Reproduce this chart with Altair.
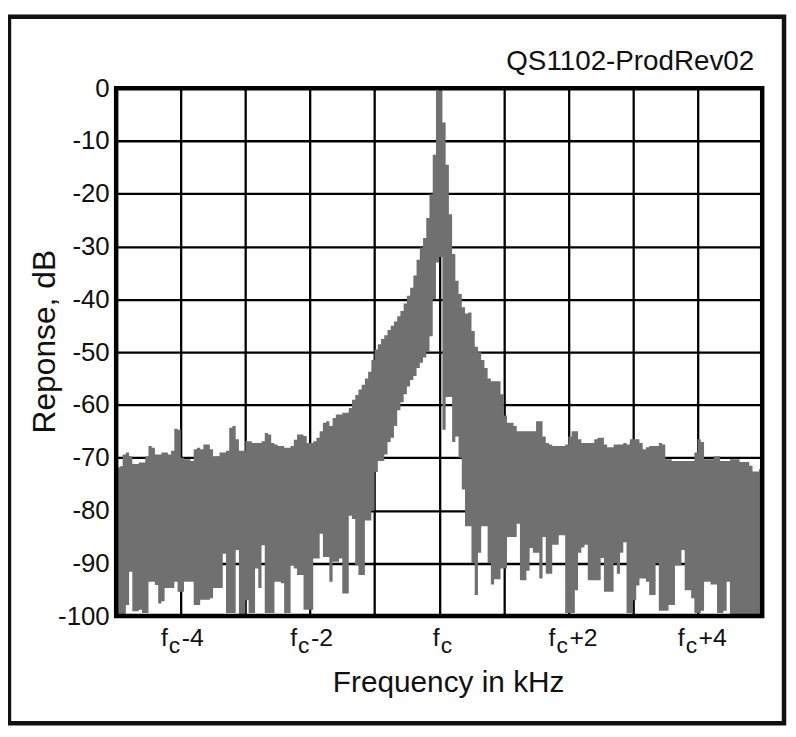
import altair as alt
import pandas as pd

W_PLOT, H_PLOT = 651, 532
GRAY = "#707070"
FONT = "Liberation Sans"

# frequency grid (kHz offset from fc), one bin every 0.05 kHz
freq = [round(-5 + 0.05 * i, 2) for i in range(201)]

# upper envelope of the spectrum per bin (dB)
top_db = [
    -71.9, -71.6, -69.4, -69.0, -69.7, -71.2, -71.2, -70.9, -70.9, -69.7,
    -67.8, -68.1, -69.4, -69.4, -69.0, -69.0, -69.4, -68.7, -64.5, -64.7,
    -70.0, -70.3, -70.3, -70.6, -68.4, -68.1, -68.4, -67.5, -67.5, -68.4,
    -69.7, -69.7, -69.0, -69.0, -68.7, -64.3, -64.0, -66.5, -68.7, -68.7,
    -66.9, -66.9, -67.2, -67.2, -67.2, -66.9, -65.3, -65.6, -67.2, -67.5,
    -67.8, -67.8, -68.1, -68.1, -67.8, -66.6, -65.6, -65.6, -65.9, -67.2,
    -67.2, -66.9, -66.2, -65.0, -63.4, -63.1, -64.0, -62.5, -61.8, -61.8,
    -61.5, -61.5, -60.6, -59.0, -58.1, -57.1, -56.2, -55.0, -53.7, -51.5,
    -49.5, -48.5, -47.5, -46.8, -45.8, -45.0, -44.2, -43.2, -42.2, -40.8,
    -39.3, -37.8, -35.5, -32.5, -30.2, -28.4, -24.6, -20.1, -12.6, -0.5,
    -0.3, -6.5, -14.5, -23.9, -31.4, -36.5, -39.0, -41.5, -42.7, -42.5,
    -46.0, -49.0, -50.0, -51.5, -53.0, -55.0, -55.5, -55.5, -55.5, -58.0,
    -62.0, -63.4, -63.4, -64.0, -65.0, -65.0, -65.0, -65.0, -65.0, -65.0,
    -63.1, -63.1, -66.0, -67.2, -67.5, -67.8, -67.8, -67.8, -67.8, -67.5,
    -66.0, -65.0, -65.0, -66.5, -67.2, -67.2, -67.2, -67.2, -66.5, -66.2,
    -66.2, -67.5, -68.0, -68.0, -67.5, -67.5, -67.5, -67.2, -67.5, -66.5,
    -66.5, -66.5, -67.2, -68.4, -68.0, -67.8, -67.8, -67.8, -67.2, -67.5,
    -70.3, -70.3, -70.6, -70.6, -70.6, -70.6, -70.6, -70.6, -70.6, -69.0,
    -66.5, -67.0, -70.3, -70.3, -70.3, -69.7, -69.7, -70.6, -70.6, -70.6,
    -70.3, -70.3, -70.3, -70.8, -70.8, -70.8, -71.5, -72.6, -72.6, -72.2,
]

# lower envelope of the spectrum per bin (dB)
bottom_db = [
    -100.0, -100.0, -100.0, -97.9, -91.6, -99.1, -99.1, -98.8, -99.4, -99.4,
    -93.5, -93.5, -94.1, -97.6, -97.2, -94.7, -94.7, -94.7, -93.5, -95.4,
    -95.4, -93.5, -93.5, -93.5, -97.9, -97.9, -96.9, -96.9, -96.9, -96.6,
    -94.7, -94.7, -94.7, -88.2, -99.4, -99.4, -99.4, -87.5, -100.0, -100.0,
    -97.0, -99.4, -99.4, -91.0, -94.7, -86.6, -99.4, -99.4, -99.4, -93.5,
    -93.5, -93.8, -99.4, -99.4, -90.4, -91.0, -92.2, -92.2, -98.8, -98.8,
    -98.8, -89.1, -89.1, -84.4, -88.8, -88.8, -93.5, -89.7, -89.7, -89.1,
    -95.7, -95.7, -81.0, -81.6, -90.4, -92.2, -92.2, -81.9, -81.9, -80.0,
    -72.7, -70.6, -70.6, -69.4, -67.0, -66.2, -64.0, -61.0, -59.5, -58.0,
    -56.5, -55.3, -54.5, -53.0, -52.0, -51.0, -50.0, -47.0, -40.0, -33.0,
    -32.0, -64.7, -58.5, -58.5, -67.0, -66.0, -70.0, -76.0, -83.0, -83.0,
    -90.0, -96.0, -88.0, -83.0, -83.0, -90.0, -94.0, -93.0, -93.0, -91.0,
    -91.0, -85.0, -85.0, -85.0, -82.5, -93.2, -93.2, -91.4, -87.1, -88.0,
    -88.0, -92.9, -85.0, -92.0, -92.0, -86.5, -86.5, -84.7, -84.7, -99.4,
    -99.4, -99.4, -95.1, -88.0, -87.0, -86.5, -93.2, -93.2, -93.2, -93.2,
    -89.0, -95.4, -95.4, -95.4, -90.0, -92.0, -88.0, -86.0, -99.4, -99.4,
    -97.0, -94.2, -92.9, -92.9, -93.5, -96.0, -96.0, -90.0, -99.0, -99.0,
    -99.0, -97.9, -97.9, -90.4, -90.4, -87.5, -95.1, -95.1, -96.6, -99.4,
    -99.4, -99.0, -93.5, -93.5, -94.0, -94.0, -99.4, -99.4, -99.0, -93.5,
    -100.0, -100.0, -100.0, -100.0, -100.0, -100.0, -100.0, -100.0, -100.0, -100.0,
]

y_ticks = [0, -10, -20, -30, -40, -50, -60, -70, -80, -90, -100]
x_grid = [-5, -4, -3, -2, -1, 0, 1, 2, 3, 4, 5]
x_label_ticks = [-4, -2, 0, 2, 4]
x_label_suffix = ["-4", "-2", "", "+2", "+4"]

spec_df = pd.DataFrame({
    "f": freq,
    "top": top_db + [top_db[-1]],
    "bottom": bottom_db + [bottom_db[-1]],
})
labels_df = pd.DataFrame({"tick": x_label_ticks, "suffix": x_label_suffix})
one = pd.DataFrame({"k": [0]})

x_scale = alt.Scale(domain=[-5, 5], nice=False, zero=False)
y_scale = alt.Scale(domain=[-100, 0], nice=False, zero=False)

spectrum = alt.Chart(spec_df).mark_area(
    interpolate="step-after", color=GRAY, clip=True
).encode(
    x=alt.X("f:Q", scale=x_scale, axis=alt.Axis(
        values=x_grid, labels=False, ticks=False, domain=False,
        grid=True, gridColor="black", gridWidth=2.3, gridOpacity=1,
        title="Frequency in kHz", titleFont=FONT, titleFontSize=30,
        titleFontWeight="normal", titleColor="#111",
        titleX=W_PLOT / 2 + 9, titleY=76, titleBaseline="alphabetic",
    )),
    y=alt.Y("top:Q", scale=y_scale, axis=alt.Axis(
        values=y_ticks, labelExpr="'' + datum.value", ticks=False, domain=False,
        grid=True, gridColor="black", gridWidth=2.3, gridOpacity=1,
        labelFont=FONT, labelFontSize=26, labelColor="#111", labelPadding=7,
        title="Reponse, dB", titleFont=FONT, titleFontSize=32,
        titleFontWeight="normal", titleColor="#111",
        titleX=-62, titleY=255, titleBaseline="alphabetic", titleAngle=-90,
    )),
    y2="bottom:Q",
)

plot_frame = alt.Chart(one).mark_rect(
    filled=False, stroke="black", strokeWidth=4.5
).encode(
    x=alt.value(0), x2=alt.value(W_PLOT), y=alt.value(0), y2=alt.value(H_PLOT)
)

outer_frame = alt.Chart(one).mark_rect(
    filled=False, stroke="#111", strokeWidth=4.5
).encode(
    x=alt.value(-108), x2=alt.value(673), y=alt.value(-72), y2=alt.value(640)
)

title_txt = alt.Chart(one).mark_text(
    text="QS1102-ProdRev02", font=FONT, fontSize=28, color="#111",
    align="right", baseline="alphabetic"
).encode(x=alt.value(643), y=alt.value(-18))

px_per_khz = W_PLOT / 10.0
base_lbl = alt.Chart(labels_df).transform_calculate(
    w="21 + 13.5 * length(datum.suffix)"
).transform_calculate(
    xf=f"datum.tick - (datum.w / 2 - 4) / {px_per_khz}",
    xc=f"datum.tick - (datum.w / 2 - 12) / {px_per_khz}",
    xs=f"datum.tick - (datum.w / 2 - 25) / {px_per_khz}",
)

lbl_f = base_lbl.mark_text(
    text="f", font=FONT, fontSize=25, color="#111", align="left", baseline="alphabetic"
).encode(x=alt.X("xf:Q", scale=x_scale), y=alt.value(H_PLOT + 30))

lbl_c = base_lbl.mark_text(
    text="c", font=FONT, fontSize=23, color="#111", align="left", baseline="alphabetic"
).encode(x=alt.X("xc:Q", scale=x_scale), y=alt.value(H_PLOT + 37))

lbl_s = base_lbl.mark_text(
    font=FONT, fontSize=25, color="#111", align="left", baseline="alphabetic"
).encode(x=alt.X("xs:Q", scale=x_scale), y=alt.value(H_PLOT + 30), text="suffix:N")

chart = alt.layer(
    spectrum, plot_frame, outer_frame, title_txt, lbl_f, lbl_c, lbl_s
).properties(
    width=W_PLOT, height=H_PLOT,
    padding={"left": 109, "top": 78, "right": 26, "bottom": 112},
    autosize=alt.AutoSizeParams(type="none"),
    background="white",
).configure_view(stroke=None).configure(font=FONT)

chart.save("out.html", embed_options={"renderer": "svg", "actions": False})
